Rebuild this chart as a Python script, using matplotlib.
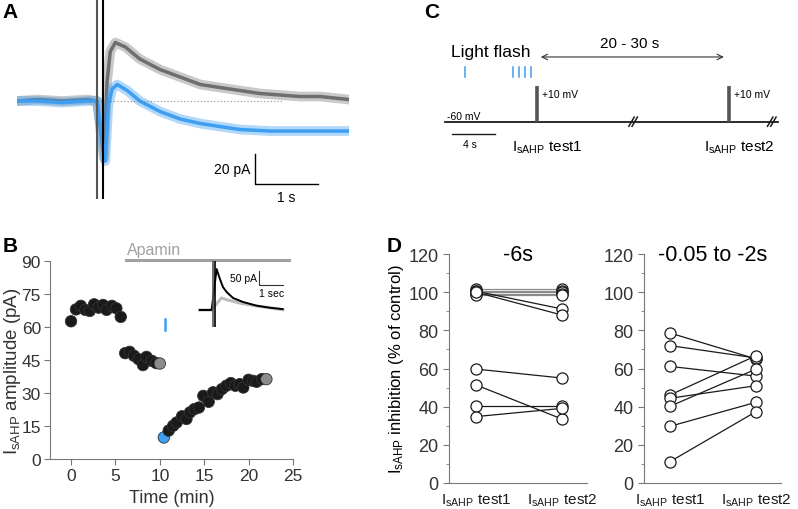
import numpy as np
import matplotlib
matplotlib.use("Agg")
import matplotlib.pyplot as plt

plt.rcParams['font.family'] = ['Liberation Sans', 'DejaVu Sans']
plt.rcParams['mathtext.fontset'] = 'custom'
plt.rcParams['mathtext.rm'] = 'Liberation Sans'
plt.rcParams['mathtext.it'] = 'Liberation Sans'

W, H = 798, 510
GRAY = '#7a7a7a'
BLUE = '#3d9ef2'
AX = '#777777'

# --- A: sample currents (t in s, amplitude in pA) ---
a_ctrl_t = [-1.32, -1.0, -0.6, -0.2, -0.05, 0.06, 0.11, 0.16, 0.24, 0.4, 0.63, 0.95, 1.27, 1.59, 1.9,
            2.22, 2.54, 2.86, 3.17, 3.49, 3.95]
a_ctrl_v = [0, 1, 0, 1, 0, -38, 13, 33, 39, 36, 28, 21, 16, 11, 9, 7, 5, 4, 3, 3, 1]
a_flash_t = [-1.32, -1.0, -0.6, -0.2, -0.05, 0.08, 0.13, 0.19, 0.27, 0.43, 0.63, 0.95, 1.27, 1.59,
             1.9, 2.22, 2.7, 3.17, 3.6, 3.95]
a_flash_v = [0, 0, -1, 0, 0, -40, -3, 8, 11, 7, 0, -7, -12, -15, -17, -19, -20, -20, -20, -20]

# --- B: time course ---
b_time = [0, 0.56, 1.1, 1.6, 2.1, 2.6, 3.1, 3.6, 4.0, 4.6, 5.1, 5.6,
          6.1, 6.6, 7.1, 7.6, 8.1, 8.5, 9.1, 9.6, 10.0,
          10.45, 11.0, 11.5, 11.9, 12.5, 13.0, 13.4, 13.9, 14.4, 14.9, 15.5, 16.0, 16.5,
          17.0, 17.5, 18.0, 18.5, 19.0, 19.4, 20.0, 20.5, 20.9, 21.5, 22.0]
b_amp = [62.6, 68.0, 69.6, 67.8, 67.3, 70.3, 68.8, 70.0, 67.8, 69.6, 68.5, 64.6,
         48.1, 48.7, 46.9, 45.4, 42.7, 46.4, 44.6, 43.6, 43.4,
         9.8, 12.9, 15.1, 16.6, 19.4, 18.2, 21.2, 22.7, 23.4, 28.7, 26.0, 30.3, 29.5,
         31.8, 33.3, 34.5, 33.3, 34.0, 32.5, 36.0, 35.5, 35.1, 36.3, 36.3]
b_gray_idx = [20, 44]
b_blue_idx = [21]
apamin_span = (6.2, 24.6)
b_flash_time = 10.6

# inset traces (t in s, pA)
ins_ctrl_t = [-0.6, -0.1, 0.11, 0.25, 0.38, 0.53, 0.8, 1.22, 1.8, 2.35, 2.9]
ins_ctrl_v = [0, 0, 143, 108, 80, 63, 42, 28, 15, 8, 3]
ins_apa_t = [-0.6, -0.1, 0.17, 0.32, 0.53, 1.1, 1.8, 2.9]
ins_apa_v = [0, 0, 28, 42, 36, 24, 14, 1]

# --- C: protocol (s, mV) ---
flash_times = [1.86, 6.33, 6.88, 7.44, 8.0]
test_times = [8.56, 26.4]
break_times = [17.5, 30.4]
hold_mv, step_mv = -60, 10
protocol_end = 31.0

# --- D: inhibition (% of control) ---
d6_test1 = [101.5, 100.8, 100, 99.2, 98.5, 100.5, 100, 59.7, 51.4, 40.5, 34.8]
d6_test2 = [101.5, 100.8, 100, 99.2, 98.5, 91.2, 88.0, 55.0, 33.5, 40.5, 39.1]
d2_test1 = [78.6, 72.0, 61.1, 46.1, 44.4, 40.2, 29.7, 11.2]
d2_test2 = [65.0, 65.5, 56.0, 66.7, 51.0, 59.7, 42.3, 37.4]
d_cats = [r'I$_{\mathregular{sAHP}}$ test1', r'I$_{\mathregular{sAHP}}$ test2']

fig = plt.figure(figsize=(W / 100, H / 100), dpi=100)


def px_axes(l, t, r, b):
    return fig.add_axes([l / W, 1 - b / H, (r - l) / W, (b - t) / H])


for lab, x, y in [('A', 10, 13), ('B', 10, 246), ('C', 432, 12), ('D', 394, 246)]:
    fig.text(x / W, 1 - y / H, lab, fontsize=15, fontweight='bold', va='center', ha='center')

# ---------- A ----------
axA = px_axes(17, 0, 349, 200)
axA.set_xlim(-1.32, 3.95)
axA.set_ylim(-65.3, 68)
axA.axis('off')
axA.plot(a_ctrl_t, a_ctrl_v, color=GRAY, lw=7, alpha=0.4, solid_joinstyle='round')
axA.plot(a_ctrl_t, a_ctrl_v, color='#6e6e6e', lw=2.5, solid_joinstyle='round')
axA.plot(a_flash_t, a_flash_v, color=BLUE, lw=7, alpha=0.4, solid_joinstyle='round')
axA.plot(a_flash_t, a_flash_v, color=BLUE, lw=2.5, solid_joinstyle='round')
axA.plot([-0.05, 2.9], [0, 0], ls=(0, (1, 2)), color='#888888', lw=0.8)
axA.axvline(-0.05, color='#555555', lw=1.5)
axA.axvline(0.05, color='black', lw=1.5)
axA.plot([2.46, 2.46, 3.46], [-35.3, -55.3, -55.3], color='black', lw=1)
axA.text(2.38, -45, '20 pA', ha='right', va='center', fontsize=10)
axA.text(2.96, -64, '1 s', ha='center', va='center', fontsize=10, clip_on=False)

# ---------- B ----------
axB = px_axes(50, 262, 293, 460)
axB.set_xlim(-2.37, 25)
axB.set_ylim(0, 90)
for s in ['top', 'right']:
    axB.spines[s].set_visible(False)
for s in ['left', 'bottom']:
    axB.spines[s].set_color(AX)
axB.tick_params(colors='#333333', labelsize=12.5, length=4, width=0.8, pad=2.5)
axB.tick_params(axis='both', color=AX)
axB.set_xticks([0, 5, 10, 15, 20, 25])
axB.set_yticks([0, 15, 30, 45, 60, 75, 90])
cols = ['#1a1a1a'] * len(b_time)
for i in b_gray_idx:
    cols[i] = '#8c8c8c'
for i in b_blue_idx:
    cols[i] = BLUE
axB.scatter(b_time, b_amp, s=68, c=cols, edgecolors='#333333', linewidths=0.6, zorder=3, clip_on=False)
axB.plot(apamin_span, [90.5, 90.5], color='#a0a0a0', lw=2.2, clip_on=False)
axB.text(apamin_span[0] + 0.1, 92, 'Apamin', color='#a0a0a0', fontsize=11.5, va='bottom', ha='left')
axB.plot([b_flash_time, b_flash_time], [58.5, 63.5], color=BLUE, lw=1.8)
axB.set_xlabel('Time (min)', fontsize=13, color='#333333', labelpad=4)
axB.set_ylabel(r'I$_{\mathregular{sAHP}}$ amplitude (pA)', fontsize=13.5, color='#333333')
axB.yaxis.set_label_coords(-0.112, 0.45)

# inset
axI = px_axes(198, 262, 286, 328)
axI.set_xlim(-0.675, 3.04)
axI.set_ylim(-59.4, 171)
axI.axis('off')
axI.plot(ins_apa_t, ins_apa_v, color='#bdbdbd', lw=2.2)
axI.plot(ins_ctrl_t, ins_ctrl_v, color='black', lw=1.4)
axI.axvline(-0.04, color='#555555', lw=1.2)
axI.axvline(0.06, color='black', lw=1.2)
axI.plot([1.9, 1.9, 2.9], [137, 87, 87], color='#333333', lw=0.8)
axI.text(1.82, 112, '50 pA', ha='right', va='center', fontsize=7.5)
axI.text(2.45, 60, '1 sec', ha='center', va='center', fontsize=7.5)

# ---------- C ----------
axC = px_axes(420, 0, 798, 200)
axC.set_xlim(-2.33, 32.84)
axC.set_ylim(-211.6, 180.6)
axC.axis('off')
axC.plot([0, protocol_end], [hold_mv, hold_mv], color='#1a1a1a', lw=1.3)
for t in test_times:
    axC.plot([t, t], [hold_mv, step_mv], color='#555555', lw=2.6, solid_capstyle='butt')
    axC.text(t + 0.45, -5.7, '+10 mV', fontsize=7.5, va='center', ha='left')
for t in break_times:
    for dt in (-0.15, 0.15):
        axC.plot([t + dt - 0.25, t + dt + 0.25], [hold_mv - 9, hold_mv + 9], color='#1a1a1a', lw=1.1)
for t in flash_times:
    axC.plot([t, t], [27.6, 47.3], color=BLUE, lw=1.1)
axC.text(0.6, 78.6, 'Light flash', fontsize=12.5, va='center', ha='left')
axC.annotate('', xy=(8.65, 66.9), xytext=(26.2, 66.9),
             arrowprops=dict(arrowstyle='<->', color='#333333', lw=0.8))
axC.text(17.2, 94, '20 - 30 s', fontsize=11, ha='center', va='center')
axC.text(0.2, -48.8, '-60 mV', fontsize=7.5, ha='left', va='center')
axC.plot([0.65, 4.65], [-84, -84], color='#1a1a1a', lw=1)
axC.text(2.3, -103.7, '4 s', fontsize=7.5, ha='center', va='center')
for t, lab in zip(test_times, d_cats):
    axC.text(t + 1.0, -110, lab, fontsize=11, ha='center', va='center')

# ---------- D ----------
def d_panel(box, t1, t2, title, xlim):
    ax = px_axes(*box)
    ax.set_xlim(*xlim)
    ax.set_ylim(0, 120)
    for s in ['top', 'right']:
        ax.spines[s].set_visible(False)
    for s in ['left', 'bottom']:
        ax.spines[s].set_color(AX)
    ax.set_yticks(range(0, 121, 20))
    ax.set_yticks(range(10, 120, 20), minor=True)
    ax.tick_params(axis='y', colors='#333333', labelsize=13, length=4, color=AX)
    ax.tick_params(axis='y', which='minor', length=2.5, color=AX)
    ax.set_xticks([0, 1])
    ax.set_xticklabels(d_cats, fontsize=11)
    ax.tick_params(axis='x', length=0, pad=6, colors='#1a1a1a')
    for a, b in zip(t1, t2):
        lc = '#8a8a8a' if (a > 97 and b > 97) else '#1a1a1a'
        ax.plot([0, 1], [a, b], color=lc, lw=0.9, zorder=2)
    ax.plot([0] * len(t1), t1, 'o', ms=8, mfc='white', mec='#1a1a1a', mew=0.9, zorder=3)
    ax.plot([1] * len(t2), t2, 'o', ms=8, mfc='white', mec='#1a1a1a', mew=0.9, zorder=3)
    ax.set_title(title, fontsize=15.5, pad=-4, y=1.0)
    return ax


axD1 = d_panel((449, 255, 587, 484), d6_test1, d6_test2, '-6s', (-0.314, 1.29))
axD2 = d_panel((644, 255, 781, 484), d2_test1, d2_test2, '-0.05 to -2s', (-0.302, 1.29))
axD1.set_ylabel(r'I$_{\mathregular{sAHP}}$ inhibition (% of control)', fontsize=12, labelpad=2)

fig.savefig('out.png', dpi=100)
